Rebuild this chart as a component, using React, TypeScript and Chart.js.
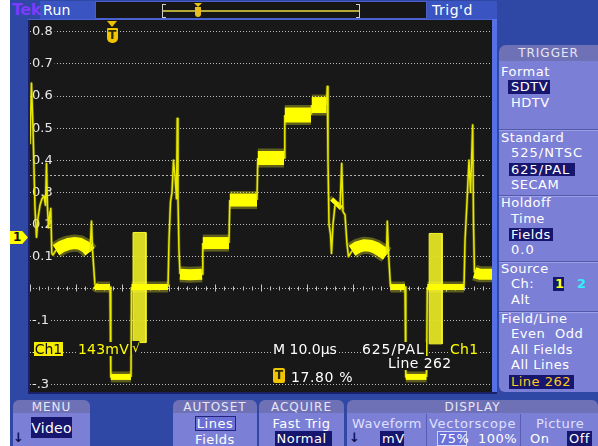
import React, { useEffect, useRef } from 'react';
import { Chart, registerables } from 'chart.js';

Chart.register(...registerables);

// Time axis: 10 µs/div, 10 divisions across the screen.
const timeUs = [
  0, 0.32, 0.65, 1.08, 1.41, 1.73, 2.16, 2.6, 3.03, 3.35,
  3.57, 3.79, 4.0, 4.33, 4.5, 4.72, 4.98, 5.63, 6.93, 8.23,
  9.52, 10.82, 12.12, 12.99, 13.31, 13.53, 14.07, 14.5, 17.32, 17.49,
  21.86, 21.97, 29.87, 30.09, 30.41, 30.74, 31.06, 31.39, 31.71, 31.88,
  32.03, 32.25, 32.47, 34.63, 37.23, 37.4, 43.07, 43.25, 49.13, 49.31,
  54.98, 55.15, 60.82, 60.99, 64.18, 64.35, 64.5, 64.72, 65.04, 65.26,
  65.58, 66.02, 66.67, 67.1, 67.47, 67.75, 68.18, 68.61, 68.94, 69.7,
  71.0, 72.29, 73.59, 74.89, 76.19, 77.16, 77.34, 77.6, 78.03, 81.17,
  81.34, 85.82, 86.0, 93.94, 94.16, 94.59, 95.02, 95.35, 95.82, 96.0,
  96.21, 97.4, 100,
];
const volts = [
  0.45, 0.64, 0.5, 0.25, 0.16, 0.22, 0.26, 0.28, 0.29, 0.26,
  0.39, 0.25, 0.19, 0.24, 0.25, 0.11, 0.105, 0.12, 0.132, 0.139,
  0.142, 0.14, 0.13, 0.115, 0.21, 0.12, 0.01, 0.005, 0.005, -0.275,
  -0.275, 0.005, 0.005, 0.15, 0.27, 0.3, 0.4, 0.35, 0.28, 0.53,
  0.28, 0.12, 0.045, 0.043, 0.045, 0.142, 0.142, 0.276, 0.276, 0.407,
  0.407, 0.541, 0.541, 0.572, 0.572, 0.63, 0.4, 0.2, 0.17, 0.11,
  0.2, 0.26, 0.27, 0.25, 0.39, 0.24, 0.23, 0.14, 0.1, 0.118,
  0.13, 0.135, 0.134, 0.127, 0.115, 0.105, 0.21, 0.11, 0.005, 0.005,
  -0.275, -0.275, 0.005, 0.005, 0.15, 0.27, 0.4, 0.3, 0.51, 0.2,
  0.05, 0.045, 0.045,
];
// Colour bursts (envelope of the subcarrier packets)
const burstStartUs = [22.3, 86.4];
const burstEndUs = [25.1, 89.2];
const burstHighV = [0.175, 0.172];
const burstLowV = [-0.168, -0.172];
// Axis ranges / graticule
const xRangeUs = [0, 100];
const yRangeV = [-0.322, 0.837];
const yStepV = 0.1;
const markerLevelV = 0.355;
const triggerPct = 17.8;

const FONT = '"DejaVu Sans", Verdana, sans-serif';

const fmtTick = (v: number) => {
  const r = Math.round(v * 10) / 10;
  if (Math.abs(r) < 1e-9) return '';
  return r.toFixed(1).replace('-0.', '-.');
};

const isSteep = (c: any) => Math.abs(c.p1.y - c.p0.y) > Math.abs(c.p1.x - c.p0.x) * 1.2;

const segWidth = (extra: number) => (c: any) => {
  if (isSteep(c)) return 1.5 + extra * 0.3;
  const v = ((c.p0.parsed?.y ?? 0) + (c.p1.parsed?.y ?? 0)) / 2;
  return (v < 0.02 ? 6 : Math.round(11 + 8 * v)) + extra;
};
const segColor = (thick: string, thin: string) => (c: any) => (isSteep(c) ? thin : thick);

const graticulePlugin = {
  id: 'graticule',
  beforeDatasetsDraw(chart: any) {
    const { ctx, chartArea, scales } = chart;
    const xs = scales.x;
    const ys = scales.y;
    const y0 = Math.round(ys.getPixelForValue(0)) + 0.5;
    ctx.save();
    ctx.strokeStyle = '#c4c4c4';
    ctx.lineWidth = 1;
    for (let t = xRangeUs[0]; t <= xRangeUs[1]; t += 2) {
      const px = Math.round(xs.getPixelForValue(t)) + 0.5;
      const major = t % 10 === 0;
      ctx.beginPath();
      ctx.moveTo(px, y0 - (major ? 5 : 3));
      ctx.lineTo(px, y0 + (major ? 2 : 1));
      ctx.stroke();
    }
    const ym = Math.round(ys.getPixelForValue(markerLevelV)) + 0.5;
    ctx.setLineDash([2, 2]);
    ctx.strokeStyle = '#b4b4b4';
    ctx.beginPath();
    ctx.moveTo(chartArea.left, ym);
    ctx.lineTo(chartArea.right - 8, ym);
    ctx.stroke();
    ctx.restore();
  },
};

function Txt(p: any) {
  const s = p.s ?? 13;
  return (
    <div
      style={{
        position: 'absolute',
        left: p.x,
        top: p.y - Math.round(s * 0.12),
        width: p.w,
        textAlign: p.align,
        fontFamily: FONT,
        fontSize: s,
        lineHeight: `${s}px`,
        color: p.c ?? '#ffffff',
        letterSpacing: p.ls ?? 0.5,
        fontWeight: p.bold ? 'bold' : 'normal',
        whiteSpace: 'nowrap',
        background: p.bg,
        padding: p.pad,
      }}
    >
      {p.children}
    </div>
  );
}

function Box(p: any) {
  return (
    <div
      style={{
        position: 'absolute',
        left: p.x,
        top: p.y,
        width: p.w,
        height: p.h,
        background: p.bg,
        border: p.border,
        borderRadius: p.r,
        boxSizing: 'border-box',
      }}
    />
  );
}

const PANEL = '#7b7fd6';
const TAB = '#6f71b6';
const NAVY = '#16166e';
const BLUE = '#2f47a5';

function Sep({ y }: { y: number }) {
  return (
    <>
      <Box x={499} y={y} w={99} h={1} bg="#5458a8" />
      <Box x={499} y={y + 1} w={99} h={1} bg="#9ca0e8" />
    </>
  );
}

function Tab({ x, w, label }: { x: number; w: number; label: string }) {
  return (
    <>
      <Box x={x} y={400} w={w} h={13} bg={TAB} r="6px 6px 0 0" />
      <Box x={x} y={413} w={w} h={33} bg={PANEL} />
      <Txt x={x} w={w} align="center" y={402} s={12} ls={1} c="#e6e6f6">{label}</Txt>
    </>
  );
}

export default function App() {
  const ref = useRef<HTMLCanvasElement>(null);

  useEffect(() => {
    const canvas = ref.current;
    if (!canvas) return;
    const pts = timeUs.map((t, i) => ({ x: t, y: volts[i] }));
    const bursts = burstStartUs.map((s, i) => ({
      label: 'burst' + i,
      data: [
        { x: s, y: burstLowV[i] },
        { x: s, y: burstHighV[i] },
        { x: burstEndUs[i], y: burstHighV[i] },
        { x: burstEndUs[i], y: burstLowV[i] },
        { x: s, y: burstLowV[i] },
      ],
      borderColor: '#f6f628',
      borderWidth: 1,
      backgroundColor: 'rgba(228,228,36,0.95)',
      fill: 'shape',
      pointRadius: 0,
      tension: 0,
    }));
    const chart = new Chart(canvas, {
      type: 'line',
      data: {
        datasets: [
          {
            label: 'Ch1',
            data: pts,
            borderColor: '#ffff00',
            borderWidth: 6,
            pointRadius: 0,
            tension: 0,
            fill: false,
            borderCapStyle: 'butt',
            borderJoinStyle: 'round',
            segment: { borderWidth: segWidth(0), borderColor: segColor('#ffff00', '#e8e800') },
          },
          {
            label: 'Ch1 glow',
            data: pts,
            borderColor: 'rgba(255,255,40,0.3)',
            borderWidth: 8,
            pointRadius: 0,
            tension: 0,
            fill: false,
            borderCapStyle: 'butt',
            borderJoinStyle: 'round',
            segment: {
              borderWidth: segWidth(5),
              borderColor: segColor('rgba(255,255,40,0.3)', 'rgba(230,230,20,0.3)'),
            },
          },
          ...bursts,
        ] as any,
      },
      options: {
        animation: false,
        responsive: false,
        maintainAspectRatio: false,
        events: [],
        layout: { padding: 0 },
        plugins: {
          legend: { display: false },
          tooltip: { enabled: false },
          title: { display: false },
        },
        scales: {
          x: { type: 'linear', min: xRangeUs[0], max: xRangeUs[1], display: false },
          y: {
            type: 'linear',
            position: 'left',
            min: yRangeV[0],
            max: yRangeV[1],
            afterFit: (s: any) => {
              s.width = 0;
              s.paddingTop = 0;
              s.paddingBottom = 0;
            },
            grid: { color: '#bdbdbd', lineWidth: 1, drawTicks: false },
            border: { display: false, dash: [1, 2] },
            ticks: {
              stepSize: yStepV,
              includeBounds: false,
              autoSkip: false,
              mirror: true,
              padding: 2,
              color: '#e8e8e8',
              font: { family: 'DejaVu Sans', size: 13 },
              showLabelBackdrop: (c: any) => Math.abs(c.tick?.value ?? 0) > 1e-6,
              backdropColor: '#181818',
              backdropPadding: { left: 0, right: 2, top: 0, bottom: 0 },
              callback: (v: any) => fmtTick(Number(v)),
            },
          },
        },
      } as any,
      plugins: [graticulePlugin],
    });
    return () => chart.destroy();
  }, []);

  const trigX = 30 + (triggerPct / 100) * 462;

  return (
    <div
      style={{
        position: 'absolute',
        left: 0,
        top: 0,
        width: 598,
        height: 446,
        background: BLUE,
        overflow: 'hidden',
        fontFamily: FONT,
      }}
    >
      <Box x={0} y={0} w={10} h={446} bg="#ffffff" />

      {/* Top status bar */}
      <Box x={40} y={1} w={55} h={18} bg="#3a54c2" />
      <Txt x={12} y={4} s={16} c="#7b3cff" bold ls={-0.5}>Tek</Txt>
      <Txt x={43} y={5} s={14} ls={0.3}>Run</Txt>
      <Box x={95} y={1} w={332} h={18} bg="#161616" border="1px solid #4c5ec8" />
      <Box x={163} y={10} w={197} h={2} bg="#b4a838" />
      <div style={{ position: 'absolute', left: 162, top: 4, width: 3, height: 12, borderLeft: '1px solid #cfcfcf', borderTop: '1px solid #cfcfcf', borderBottom: '1px solid #cfcfcf' }} />
      <div style={{ position: 'absolute', left: 356, top: 4, width: 3, height: 12, borderRight: '1px solid #cfcfcf', borderTop: '1px solid #cfcfcf', borderBottom: '1px solid #cfcfcf' }} />
      <div style={{ position: 'absolute', left: 194, top: 3, width: 0, height: 0, borderLeft: '4px solid transparent', borderRight: '4px solid transparent', borderTop: '4px solid #e8bf20' }} />
      <Box x={195} y={7} w={6} h={10} bg="#e8bf20" r="0 0 3px 3px" />
      <Box x={427} y={1} w={70} h={18} bg="#3a54c2" />
      <Txt x={432} y={5} s={14} ls={0.5}>Trig'd</Txt>

      {/* Plot frame */}
      <Box x={28} y={19} w={2} h={375} bg="#1a2068" />
      <Box x={28} y={19} w={469} h={1} bg="#4a62d8" />
      <Box x={492} y={19} w={5} h={375} bg="#5670e6" />
      <Box x={28} y={392} w={469} h={2} bg="#1a2068" />

      <canvas
        ref={ref}
        width={462}
        height={372}
        style={{ position: 'absolute', left: 30, top: 20, width: 462, height: 372, background: '#181818', display: 'block' }}
      />

      {/* Trigger position marker */}
      <div style={{ position: 'absolute', left: trigX - 5.5, top: 21, width: 0, height: 0, borderLeft: '5.5px solid transparent', borderRight: '5.5px solid transparent', borderTop: '6px solid #f0c000' }} />
      <div style={{ position: 'absolute', left: trigX - 5.5, top: 28, width: 11, height: 15, background: '#f0c400', borderRadius: '1px 1px 5px 5px', color: '#2a2a00', fontFamily: FONT, fontWeight: 'bold', fontSize: 12, lineHeight: '15px', textAlign: 'center' }}>T</div>

      {/* Channel ground marker */}
      <div style={{ position: 'absolute', left: 10, top: 231, width: 18, height: 13, background: '#ffff00', clipPath: 'polygon(0 0, 68% 0, 100% 50%, 68% 100%, 0 100%)', color: '#111', fontFamily: FONT, fontWeight: 'bold', fontSize: 12, lineHeight: '13px', paddingLeft: 3, boxSizing: 'border-box' }}>1</div>

      {/* On-screen readouts */}
      <div style={{ position: 'absolute', left: 34, top: 342, width: 29, height: 14, background: '#f6ee00', color: '#111', fontFamily: FONT, fontSize: 14, lineHeight: '14px', textAlign: 'center' }}>Ch1</div>
      <Txt x={77} y={344} s={14} c="#ffff00" ls={0.2} bg="#181818" pad="0 1px">143mV</Txt>
      <Txt x={132} y={343} s={13} c="#ffff00" ls={0} bg="#181818">√</Txt>
      <Txt x={272} y={344} s={14} ls={0} bg="#181818" pad="0 1px">M 10.0µs</Txt>
      <Txt x={361} y={344} s={14} ls={0.9} bg="#181818" pad="0 1px">625/PAL</Txt>
      <Txt x={449} y={344} s={14} c="#ffff00" ls={0.3} bg="#181818" pad="0 1px">Ch1</Txt>
      <Txt x={387} y={358} s={14} ls={0.4} bg="#181818" pad="0 1px">Line 262</Txt>
      <div style={{ position: 'absolute', left: 273, top: 368, width: 12, height: 15, background: '#f0c400', borderRadius: 2, color: '#2a2a00', fontFamily: FONT, fontWeight: 'bold', fontSize: 12, lineHeight: '15px', textAlign: 'center' }}>T</div>
      <Txt x={290} y={372} s={14} ls={0.6} bg="#181818" pad="0 1px">17.80 %</Txt>

      {/* Right TRIGGER panel */}
      <Box x={499} y={45} w={99} h={16} bg={TAB} r="7px 0 0 0" />
      <Txt x={499} w={99} align="center" y={48} s={12} ls={1} c="#e6e6f6">TRIGGER</Txt>
      <Box x={499} y={61} w={99} h={331} bg={PANEL} r="0 0 0 6px" />
      <Txt x={501} y={67}>Format</Txt>
      <Box x={508} y={80} w={42} h={14} bg={NAVY} />
      <Txt x={511} y={82}>SDTV</Txt>
      <Txt x={511} y={98}>HDTV</Txt>
      <Sep y={129} />
      <Txt x={501} y={133}>Standard</Txt>
      <Txt x={511} y={148} ls={1}>525/NTSC</Txt>
      <Box x={509} y={163} w={66} h={13} bg={NAVY} />
      <Txt x={511} y={165} ls={1}>625/PAL</Txt>
      <Txt x={511} y={180}>SECAM</Txt>
      <Sep y={195} />
      <Txt x={501} y={198}>Holdoff</Txt>
      <Txt x={511} y={214}>Time</Txt>
      <Box x={509} y={228} w={44} h={13} bg={NAVY} />
      <Txt x={511} y={230}>Fields</Txt>
      <Txt x={511} y={245} ls={1}>0.0</Txt>
      <Sep y={261} />
      <Txt x={501} y={264}>Source</Txt>
      <Txt x={511} y={279}>Ch:</Txt>
      <Box x={553} y={277} w={11} h={14} bg={NAVY} />
      <Txt x={555} y={279} c="#ffff20" bold>1</Txt>
      <Txt x={577} y={279} c="#30f0ff" bold>2</Txt>
      <Txt x={511} y={295}>Alt</Txt>
      <Sep y={311} />
      <Txt x={501} y={314}>Field/Line</Txt>
      <Txt x={511} y={329}>Even</Txt>
      <Txt x={555} y={329}>Odd</Txt>
      <Txt x={511} y={345}>All Fields</Txt>
      <Txt x={511} y={360}>All Lines</Txt>
      <Box x={509} y={375} w={65} h={14} bg={NAVY} />
      <Txt x={511} y={377} c="#ffc820">Line 262</Txt>

      {/* Bottom menu */}
      <Tab x={13} w={77} label="MENU" />
      <Txt x={13} y={433} s={13} c="#10104a" bold ls={0}>↓</Txt>
      <Box x={31} y={417} w={41} h={21} bg={NAVY} />
      <Txt x={31} w={41} align="center" y={423} s={14} ls={0.3}>Video</Txt>

      <Tab x={173} w={84} label="AUTOSET" />
      <Box x={195} y={416} w={41} h={15} bg="#6a70d6" border="1px solid #24247a" />
      <Txt x={173} w={84} align="center" y={419}>Lines</Txt>
      <Txt x={173} w={84} align="center" y={435}>Fields</Txt>

      <Tab x={259} w={85} label="ACQUIRE" />
      <Txt x={259} w={85} align="center" y={419}>Fast Trig</Txt>
      <Box x={275} y={431} w={57} h={15} bg={NAVY} />
      <Txt x={259} w={85} align="center" y={434}>Normal</Txt>

      <Tab x={347} w={251} label="DISPLAY" />
      <Box x={426} y={414} w={1} h={32} bg="#5a5eb0" />
      <Box x={520} y={414} w={1} h={32} bg="#5a5eb0" />
      <Txt x={352} y={419} c="#dfe0ff">Waveform</Txt>
      <Txt x={429} y={419} c="#dfe0ff" ls={0.7}>Vectorscope</Txt>
      <Txt x={536} y={419} c="#dfe0ff">Picture</Txt>
      <Txt x={349} y={433} s={13} c="#10104a" bold ls={0}>↓</Txt>
      <Box x={380} y={431} w={24} h={15} bg={NAVY} />
      <Txt x={382} y={434}>mV</Txt>
      <Box x={437} y={431} w={30} h={15} bg="#6a72da" border="1px solid #d4d4ff" />
      <Txt x={439} y={434}>75%</Txt>
      <Txt x={478} y={434}>100%</Txt>
      <Txt x={530} y={434}>On</Txt>
      <Box x={567} y={431} w={25} h={15} bg={NAVY} />
      <Txt x={569} y={434}>Off</Txt>
    </div>
  );
}
